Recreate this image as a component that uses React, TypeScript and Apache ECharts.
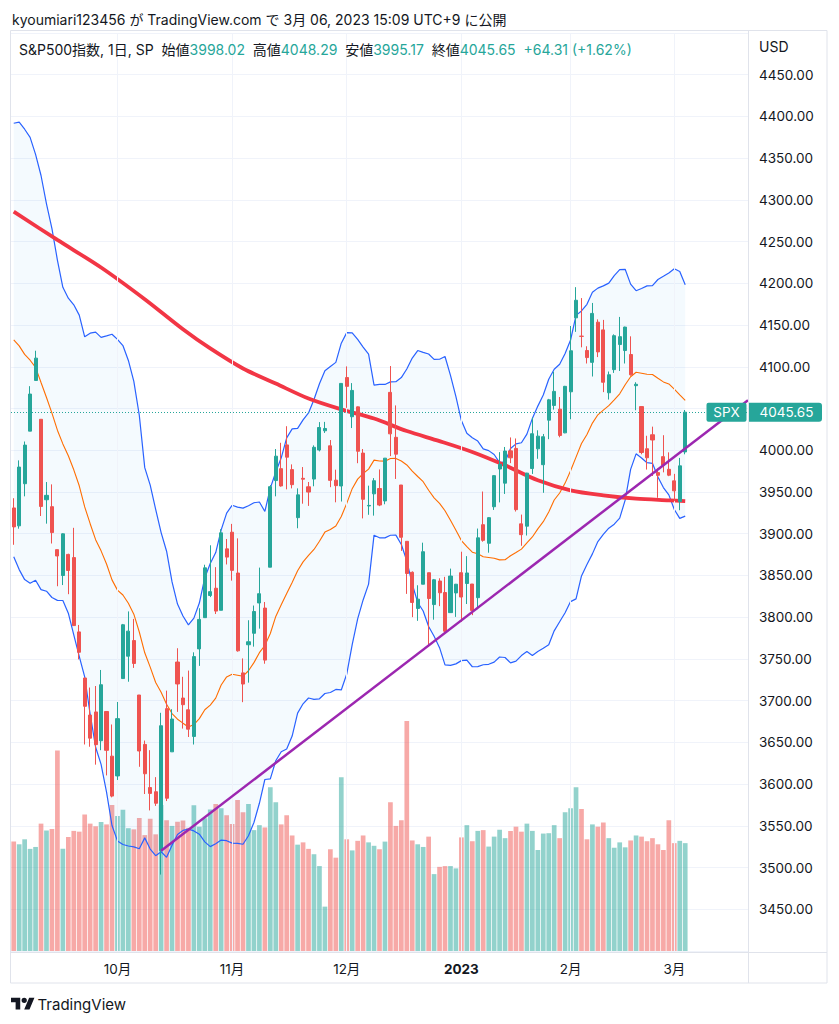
import React, { useEffect, useRef } from "react";
import * as echarts from "echarts";

// ---------- data ----------
const dates = [
  "2022-09-06","2022-09-07","2022-09-08","2022-09-09","2022-09-12","2022-09-13","2022-09-14","2022-09-15","2022-09-16","2022-09-19","2022-09-20","2022-09-21","2022-09-22","2022-09-23","2022-09-26","2022-09-27","2022-09-28","2022-09-29","2022-09-30",
  "2022-10-03","2022-10-04","2022-10-05","2022-10-06","2022-10-07","2022-10-10","2022-10-11","2022-10-12","2022-10-13","2022-10-14","2022-10-17","2022-10-18","2022-10-19","2022-10-20","2022-10-21","2022-10-24","2022-10-25","2022-10-26","2022-10-27","2022-10-28","2022-10-31",
  "2022-11-01","2022-11-02","2022-11-03","2022-11-04","2022-11-07","2022-11-08","2022-11-09","2022-11-10","2022-11-11","2022-11-14","2022-11-15","2022-11-16","2022-11-17","2022-11-18","2022-11-21","2022-11-22","2022-11-23","2022-11-25","2022-11-28","2022-11-29","2022-11-30",
  "2022-12-01","2022-12-02","2022-12-05","2022-12-06","2022-12-07","2022-12-08","2022-12-09","2022-12-12","2022-12-13","2022-12-14","2022-12-15","2022-12-16","2022-12-19","2022-12-20","2022-12-21","2022-12-22","2022-12-23","2022-12-27","2022-12-28","2022-12-29","2022-12-30",
  "2023-01-03","2023-01-04","2023-01-05","2023-01-06","2023-01-09","2023-01-10","2023-01-11","2023-01-12","2023-01-13","2023-01-17","2023-01-18","2023-01-19","2023-01-20","2023-01-23","2023-01-24","2023-01-25","2023-01-26","2023-01-27","2023-01-30","2023-01-31",
  "2023-02-01","2023-02-02","2023-02-03","2023-02-06","2023-02-07","2023-02-08","2023-02-09","2023-02-10","2023-02-13","2023-02-14","2023-02-15","2023-02-16","2023-02-17","2023-02-21","2023-02-22","2023-02-23","2023-02-24","2023-02-27","2023-02-28",
  "2023-03-01","2023-03-02","2023-03-03",
];

const opens = [
  3930.89,3909.43,3959.94,4022.94,4083.67,4037.12,3940.73,3932.41,3880.95,3849.91,3875.23,3871.40,3782.36,3727.14,3682.72,3686.44,3651.94,3687.01,3633.48,
  3609.78,3726.46,3753.25,3771.97,3706.74,3647.51,3595.86,3590.83,3520.37,3690.41,3638.65,3746.26,3703.11,3689.05,3657.10,3762.01,3799.44,3825.97,3834.69,3808.26,3881.85,
  3901.79,3852.90,3733.25,3766.98,3780.71,3817.02,3810.94,3859.89,3963.72,3977.97,4006.41,3976.82,3919.26,3966.39,3956.23,3965.51,4000.30,4023.34,4005.36,3964.19,3957.18,
  4087.14,4040.17,4052.02,3996.63,3933.28,3947.79,3954.17,3939.29,4069.38,4015.54,3958.37,3890.91,3853.79,3810.47,3839.49,3853.26,3815.11,3843.34,3829.56,3805.45,3829.06,
  3853.29,3840.36,3839.74,3823.37,3910.82,3888.57,3932.35,3977.57,3960.60,3999.28,4002.25,3911.84,3909.04,3978.14,4001.74,3982.71,4036.08,4053.72,4049.27,4020.85,
  4070.07,4158.68,4136.69,4119.57,4105.35,4153.47,4144.25,4068.92,4096.62,4126.70,4119.50,4114.75,4077.39,4052.35,4001.83,4018.60,3973.24,3992.36,3977.19,
  3963.34,3938.68,3998.02,
];

const highs = [
  3942.55,3987.89,4010.50,4076.81,4119.28,4037.12,3961.94,3959.14,3880.95,3900.45,3876.01,3907.07,3790.68,3727.14,3715.67,3717.53,3736.74,3687.01,3671.44,
  3698.35,3791.92,3806.91,3797.93,3706.74,3652.17,3640.66,3608.34,3685.41,3712.00,3689.73,3762.79,3728.58,3736.00,3757.89,3810.74,3862.85,3886.15,3859.95,3905.42,3893.73,
  3911.79,3894.44,3750.59,3796.34,3813.95,3859.40,3818.20,3958.33,4001.48,4008.97,4028.84,3983.09,3954.33,3979.89,3962.00,4005.88,4033.78,4034.02,4012.27,3976.77,4080.11,
  4100.51,4080.48,4052.45,4001.51,3957.57,3966.65,3977.02,3990.71,4100.96,4053.76,3958.37,3890.91,3854.86,3838.24,3889.28,3853.26,3845.80,3846.65,3848.32,3858.19,3839.85,
  3878.46,3873.16,3839.74,3906.19,3950.57,3919.83,3970.07,3997.76,4003.95,4015.39,4014.16,3922.94,3972.96,4039.31,4023.92,4019.55,4061.57,4094.21,4063.85,4077.16,
  4148.95,4195.44,4182.36,4124.63,4176.54,4156.85,4156.23,4094.36,4138.90,4159.77,4148.11,4136.54,4081.51,4052.35,4017.37,4028.30,3978.25,4018.05,3997.50,
  3971.73,3990.84,4048.29,
];

const lows = [
  3886.75,3906.03,3944.81,4022.94,4083.67,3921.25,3912.08,3888.28,3837.08,3838.50,3827.54,3789.49,3749.45,3647.47,3644.76,3623.29,3640.61,3610.40,3584.13,
  3604.93,3726.46,3722.66,3739.22,3620.73,3588.10,3568.45,3573.86,3491.58,3579.68,3638.65,3686.53,3666.51,3656.44,3647.42,3741.65,3799.44,3824.07,3803.79,3808.26,3863.18,
  3843.80,3758.68,3698.15,3721.56,3764.70,3786.28,3744.22,3859.89,3944.82,3956.40,3953.17,3954.34,3906.54,3935.98,3933.34,3956.88,3998.66,4020.76,3955.77,3937.65,3938.58,
  4050.87,4026.63,3984.49,3918.39,3922.68,3921.68,3933.04,3935.30,3993.03,3965.65,3879.45,3827.91,3800.04,3795.62,3839.49,3764.49,3797.01,3813.22,3780.78,3805.45,3800.34,
  3794.33,3815.77,3802.42,3809.56,3890.42,3877.29,3928.54,3937.56,3947.67,3984.57,3926.59,3885.54,3897.86,3971.64,3989.79,3949.06,4013.29,4048.70,4015.55,4020.44,
  4037.20,4141.88,4123.36,4103.98,4088.39,4111.67,4069.67,4060.79,4092.67,4095.01,4103.98,4089.50,4047.95,3995.19,3976.90,3969.19,3943.08,3973.55,3968.98,
  3939.05,3928.16,3995.17,
];

const closes = [
  3908.19,3979.87,4006.18,4067.36,4110.41,3932.69,3946.01,3901.35,3873.33,3899.89,3855.93,3789.93,3757.99,3693.23,3655.04,3647.29,3719.04,3640.47,3585.62,
  3678.43,3790.93,3783.28,3744.52,3639.66,3612.39,3588.84,3577.03,3669.91,3583.07,3677.95,3719.98,3695.16,3665.78,3752.75,3797.34,3859.11,3830.60,3807.30,3901.06,3871.98,
  3856.10,3759.69,3719.89,3770.55,3806.80,3828.11,3748.57,3956.37,3992.93,3957.25,3991.73,3958.79,3946.56,3965.34,3949.94,4003.58,4027.26,4026.12,3963.94,3957.63,4080.11,
  4076.57,4071.70,3998.84,3941.26,3933.92,3963.51,3934.38,3990.56,4019.65,3995.32,3895.75,3852.36,3817.66,3821.62,3878.44,3822.39,3844.82,3829.25,3783.22,3849.28,3839.50,
  3824.14,3852.97,3808.10,3895.08,3892.09,3919.25,3969.61,3983.17,3999.09,3990.97,3928.86,3898.85,3972.61,4019.81,4016.95,4016.22,4060.43,4070.56,4017.77,4076.60,
  4119.21,4179.76,4136.48,4111.08,4164.00,4117.86,4081.50,4090.46,4137.29,4136.13,4147.60,4090.41,4079.09,3997.34,3991.05,4012.32,3970.04,3982.24,3970.15,
  3951.39,3981.34,4045.65,
];

// volume (billions of shares)
const volumes = [
  2.86,2.79,2.92,2.67,2.72,3.33,3.15,3.19,5.24,2.67,2.98,3.14,3.12,3.57,3.33,3.26,3.37,3.31,3.82,
  3.53,3.69,3.21,3.18,3.48,3.03,3.46,3.05,3.82,3.42,3.27,3.38,3.41,3.22,3.81,3.25,3.47,3.70,3.84,3.73,3.55,
  3.32,3.95,3.63,3.84,3.16,3.29,3.23,4.28,3.89,3.31,3.55,3.02,2.78,2.84,2.67,2.53,2.22,1.16,2.66,2.44,4.54,
  2.92,2.63,2.88,3.02,2.84,2.75,2.66,2.86,3.89,3.27,3.42,6.01,2.89,2.79,2.72,2.99,2.01,2.20,2.22,2.22,2.16,
  2.97,3.29,2.87,3.14,3.16,2.73,2.99,3.17,2.95,3.14,3.25,3.12,3.33,3.14,2.64,3.07,3.08,3.29,2.95,3.63,
  3.73,4.28,3.71,2.92,3.31,3.25,3.36,2.95,2.70,2.84,2.71,2.89,3.02,2.99,2.87,2.95,2.79,2.64,3.42,
  2.82,2.88,2.82,
];

// closes of the 19 sessions before the first visible one (needed by the 20-day Bollinger window)
const priorCloses = [
  4122.47,4210.24,4207.27,4280.15,4297.14,4305.20,4274.04,4283.74,4228.48,4137.99,
  4128.73,4140.77,4199.12,4057.66,4030.61,3986.16,3955.00,3966.85,3924.26,
];

// 200-day moving average at these session indexes
const ma200Index = [0, 8, 16, 24, 31, 36, 42, 48, 54, 60, 66, 72, 78, 84, 90, 96, 102, 108, 114, 120, 123];
const ma200Values = [4286, 4252, 4219, 4181, 4145, 4122, 4098, 4080, 4062, 4049, 4038, 4023, 4011, 3998, 3982, 3964, 3952, 3946, 3942, 3940, 3939];

// hand-drawn trend line: two anchor points (session index, price)
const trendAnchorIndex = [27, 117];
const trendAnchorPrice = [3520, 3972];

const monthTickLabels = ["10月", "11月", "12月", "2023", "2月", "3月"];
const blankSessionsAfter = 11;

const titleText = "kyoumiari123456 が TradingView.com で 3月 06, 2023 15:09 UTC+9 に公開";
const symbolText = "S&P500指数, 1日, SP";

// ---------- styling ----------
const FONT = 'Inter, "Noto Sans CJK JP", sans-serif';
const TEXT = "#131722";
const UP = "#26a69a";
const DOWN = "#ef5350";
const UP_VOL = "rgba(38,166,154,0.5)";
const DOWN_VOL = "rgba(239,83,80,0.5)";
const BORDER = "#e0e3eb";
const GRIDLINE = "#f0f3fa";

const TV_LOGO_PATH =
  "M14 22H7V11H0V4h14v18zM28 22h-8l7.5-18h8L28 22zM24 8a4 4 0 1 1-8 0a4 4 0 1 1 8 0z";
let logoRegistered = false;
function registerLogo() {
  if (logoRegistered) return;
  echarts.graphic.registerShape("tvlogo", echarts.graphic.extendPath(TV_LOGO_PATH, {}));
  logoRegistered = true;
}

// ---------- derived ----------
const N_DAYS = dates.length;
const N_CATS = N_DAYS + blankSessionsAfter;
const categories = dates.concat(
  Array.from({ length: blankSessionsAfter }, (_, k) => "blank-" + (k + 1))
);

const monthStartIdx: number[] = [];
for (let i = 1; i < N_DAYS; i++) {
  if (dates[i].slice(0, 7) !== dates[i - 1].slice(0, 7)) monthStartIdx.push(i);
}
const tickLabelByIdx = new Map<number, string>();
monthStartIdx.forEach((idx, k) => tickLabelByIdx.set(idx, monthTickLabels[k]));

const BB_LEN = 20;
const BB_MULT = 2;
const bbBasis: number[] = [];
const bbUpper: number[] = [];
const bbLower: number[] = [];
const bbWidth: number[] = [];
{
  const all = priorCloses.concat(closes);
  const off = priorCloses.length;
  for (let i = 0; i < N_DAYS; i++) {
    const w = all.slice(i + off - BB_LEN + 1, i + off + 1);
    const m = w.reduce((a, b) => a + b, 0) / w.length;
    const sd = Math.sqrt(w.reduce((a, b) => a + (b - m) * (b - m), 0) / w.length);
    bbBasis.push(m);
    bbUpper.push(m + BB_MULT * sd);
    bbLower.push(m - BB_MULT * sd);
    bbWidth.push(2 * BB_MULT * sd);
  }
}

const candleData = dates.map((_, i) => [opens[i], closes[i], lows[i], highs[i]]);
const volumeData = dates.map((_, i) => ({
  value: volumes[i],
  itemStyle: { color: closes[i] >= opens[i] ? UP_VOL : DOWN_VOL },
}));
const ma200Data = ma200Index.map((x, k) => [x, ma200Values[k]]);
const trendSlope =
  (trendAnchorPrice[1] - trendAnchorPrice[0]) / (trendAnchorIndex[1] - trendAnchorIndex[0]);
const trendEndX = N_CATS - 0.5;
const trendData = [
  [trendAnchorIndex[0], trendAnchorPrice[0]],
  [trendEndX, trendAnchorPrice[0] + trendSlope * (trendEndX - trendAnchorIndex[0])],
];

const last = N_DAYS - 1;
const lastClose = closes[last];
const change = closes[last] - closes[last - 1];
const changePct = (change / closes[last - 1]) * 100;
const sign = change >= 0 ? "+" : "-";

function buildOption() {
  const line = (data: any, color: string, width: number, z: number, extra: any = {}) => ({
    type: "line",
    data,
    symbol: "none",
    showSymbol: false,
    silent: true,
    z,
    lineStyle: { color, width },
    ...extra,
  });
  return {
    animation: false,
    backgroundColor: "#ffffff",
    grid: { left: 11, right: 91, top: 33, bottom: 73, containLabel: false, outerBoundsMode: "none" },
    xAxis: [
      {
        type: "category",
        data: categories,
        boundaryGap: true,
        axisLine: { show: false },
        axisTick: { show: false },
        splitLine: { show: false },
        axisLabel: {
          interval: (i: number) => tickLabelByIdx.has(i),
          hideOverlap: false,
          margin: 11,
          color: TEXT,
          fontSize: 13.5,
          fontFamily: FONT,
          formatter: (_v: string, i: number) => {
            const s = tickLabelByIdx.get(i);
            if (!s) return "";
            return /^\d{4}$/.test(s) ? "{y|" + s + "}" : s;
          },
          rich: { y: { fontWeight: "bold", fontSize: 13.5, fontFamily: FONT, color: TEXT } },
        },
      },
      { type: "value", min: -0.5, max: N_CATS - 0.5, show: false },
    ],
    yAxis: [
      {
        type: "value",
        position: "right",
        min: 3400,
        max: 4500,
        interval: 50,
        axisLine: { show: false },
        axisTick: { show: false },
        splitLine: { lineStyle: { color: GRIDLINE, width: 1 } },
        axisLabel: {
          showMinLabel: false,
          showMaxLabel: false,
          margin: 11,
          color: TEXT,
          fontSize: 13.5,
          fontFamily: FONT,
          formatter: (v: number) => (Math.abs(v - lastClose) < 12 ? "" : v.toFixed(2)),
        },
      },
      { type: "value", min: 0, max: 24, show: false },
    ],
    series: [
      {
        type: "bar",
        name: "volume",
        xAxisIndex: 0,
        yAxisIndex: 1,
        data: volumeData,
        barWidth: "86%",
        silent: true,
        z: 1,
        markLine: {
          silent: true,
          symbol: ["none", "none"],
          label: { show: false },
          lineStyle: { color: GRIDLINE, width: 1, type: "solid" },
          data: monthStartIdx.map((i) => ({ xAxis: dates[i] })),
        },
      },
      line(bbLower, "transparent", 0, 2, { stack: "bb", lineStyle: { opacity: 0, width: 0 } }),
      line(bbWidth, "transparent", 0, 2, {
        stack: "bb",
        lineStyle: { opacity: 0, width: 0 },
        areaStyle: { color: "rgba(33,150,243,0.05)", opacity: 1 },
      }),
      line(bbUpper, "#2962ff", 1.2, 3),
      line(bbLower, "#2962ff", 1.2, 3),
      line(bbBasis, "#ff6d00", 1.1, 3),
      line(ma200Data, "#f23645", 3.8, 4, { xAxisIndex: 1, smooth: 0.3 }),
      {
        type: "candlestick",
        data: candleData,
        barWidth: 3.6,
        silent: true,
        z: 5,
        itemStyle: {
          color: UP,
          color0: DOWN,
          borderColor: UP,
          borderColor0: DOWN,
          borderWidth: 1,
        },
        markLine: {
          silent: true,
          symbol: ["none", "none"],
          label: { show: false },
          lineStyle: { color: UP, width: 1, type: [1, 2] },
          data: [{ yAxis: lastClose }],
        },
      },
      line(trendData, "#9c27b0", 2.5, 6, { xAxisIndex: 1 }),
    ],
  };
}

function buildGraphic(tagY: number) {
  const legend =
    "{d|" + symbolText + "}  " +
    "{d|始値}{g|" + opens[last].toFixed(2) + "}  " +
    "{d|高値}{g|" + highs[last].toFixed(2) + "}  " +
    "{d|安値}{g|" + lows[last].toFixed(2) + "}  " +
    "{d|終値}{g|" + closes[last].toFixed(2) + "}  " +
    "{g|" + sign + Math.abs(change).toFixed(2) + " (" + sign + Math.abs(changePct).toFixed(2) + "%)}";
  const base = { fontFamily: FONT, fontSize: 14 };
  return [
    {
      type: "text",
      x: 12,
      y: 19,
      z: 100,
      style: { text: titleText, ...base, fill: TEXT, verticalAlign: "middle" },
    },
    {
      type: "rect",
      z: 100,
      silent: true,
      shape: { x: 10.5, y: 30.5, width: 816.5, height: 952.5 },
      style: { fill: "none", stroke: BORDER, lineWidth: 1 },
    },
    {
      type: "line",
      z: 100,
      silent: true,
      shape: { x1: 748.5, y1: 30.5, x2: 748.5, y2: 983 },
      style: { stroke: BORDER, lineWidth: 1 },
    },
    {
      type: "line",
      z: 100,
      silent: true,
      shape: { x1: 10.5, y1: 952.5, x2: 827, y2: 952.5 },
      style: { stroke: BORDER, lineWidth: 1 },
    },
    {
      type: "text",
      x: 19,
      y: 49,
      z: 100,
      style: {
        text: legend,
        ...base,
        fill: TEXT,
        verticalAlign: "middle",
        rich: {
          d: { ...base, fill: TEXT, color: TEXT },
          g: { ...base, fill: UP, color: UP },
        },
      },
    },
    {
      type: "text",
      x: 759,
      y: 46,
      z: 100,
      style: { text: "USD", ...base, fill: TEXT, verticalAlign: "middle" },
    },
    {
      type: "rect",
      z: 101,
      shape: { x: 706.5, y: tagY - 9.5, width: 40, height: 19, r: 2 },
      style: { fill: UP },
    },
    {
      type: "text",
      x: 726.5,
      y: tagY,
      z: 102,
      style: { text: "SPX", fontFamily: FONT, fontSize: 13.5, fill: "#ffffff", align: "center", verticalAlign: "middle" },
    },
    {
      type: "rect",
      z: 101,
      shape: { x: 749, y: tagY - 9.5, width: 73, height: 19, r: [0, 3, 3, 0] },
      style: { fill: UP },
    },
    {
      type: "text",
      x: 759.5,
      y: tagY,
      z: 102,
      style: { text: lastClose.toFixed(2), fontFamily: FONT, fontSize: 13.5, fill: "#ffffff", verticalAlign: "middle" },
    },
    {
      type: "tvlogo",
      x: 11,
      y: 995,
      scaleX: 0.66,
      scaleY: 0.66,
      z: 100,
      style: { fill: TEXT },
    },
    {
      type: "text",
      x: 37.5,
      y: 1004,
      z: 100,
      style: { text: "TradingView", fontFamily: FONT, fontSize: 15, fill: TEXT, verticalAlign: "middle" },
    },
  ];
}

export default function App() {
  const ref = useRef<HTMLDivElement>(null);
  useEffect(() => {
    if (!ref.current) return;
    registerLogo();
    const chart = echarts.init(ref.current, null, { renderer: "svg" });
    chart.setOption(buildOption() as any);
    const tagY = chart.convertToPixel({ yAxisIndex: 0 } as any, lastClose) as number;
    chart.setOption({ graphic: buildGraphic(tagY) } as any);
    return () => chart.dispose();
  }, []);
  return (
    <div
      ref={ref}
      style={{ position: "absolute", left: 0, top: 0, width: 839, height: 1024, background: "#ffffff" }}
    />
  );
}
